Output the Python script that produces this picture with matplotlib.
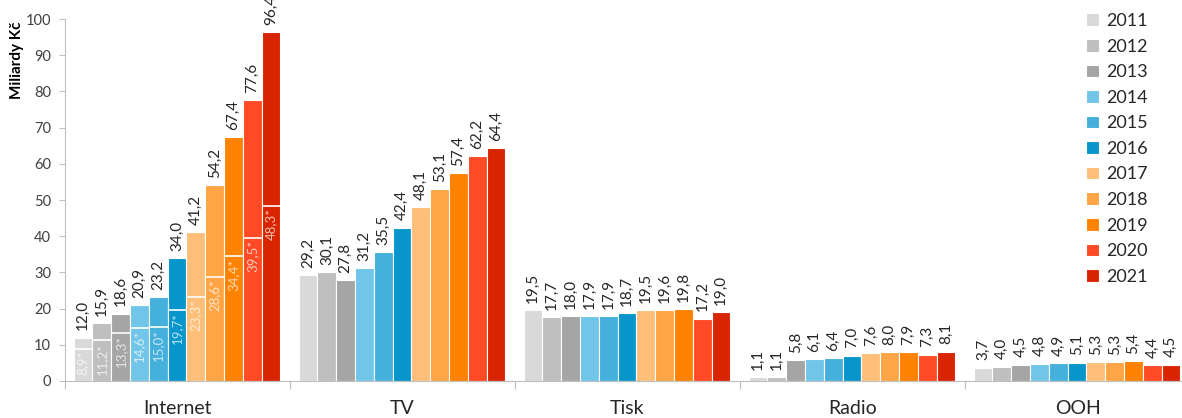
import numpy as np
import matplotlib
matplotlib.use('Agg')
import matplotlib.pyplot as plt

plt.rcParams['font.family'] = ['Lato', 'DejaVu Sans']

categories = ['Internet', 'TV', 'Tisk', 'Radio', 'OOH']
years = ['2011', '2012', '2013', '2014', '2015', '2016', '2017', '2018', '2019', '2020', '2021']
colors = ['#d9d9d9', '#bfbfbf', '#a5a5a5', '#71c5e8', '#45b0dc', '#0696cc',
          '#ffbf78', '#ffa545', '#ff8300', '#ff4a26', '#d92400']

internet = [12.0, 15.9, 18.6, 20.9, 23.2, 34.0, 41.2, 54.2, 67.4, 77.6, 96.4]
tv = [29.2, 30.1, 27.8, 31.2, 35.5, 42.4, 48.1, 53.1, 57.4, 62.2, 64.4]
tisk = [19.5, 17.7, 18.0, 17.9, 17.9, 18.7, 19.5, 19.6, 19.8, 17.2, 19.0]
radio = [1.1, 1.1, 5.8, 6.1, 6.4, 7.0, 7.6, 8.0, 7.9, 7.3, 8.1]
ooh = [3.7, 4.0, 4.5, 4.8, 4.9, 5.1, 5.3, 5.3, 5.4, 4.4, 4.5]
# internet share marked with * inside the bars
internet_star = [8.9, 11.2, 13.3, 14.6, 15.0, 19.7, 23.3, 28.6, 34.4, 39.5, 48.3]

data = np.array([internet, tv, tisk, radio, ooh])

fig = plt.figure(figsize=(11.82, 4.18), dpi=100)
ax = fig.add_axes([65/1182, 37/418, 1125/1182, 362/418])

w = 0.0836
off = 0.038
for j, year in enumerate(years):
    xs = np.arange(len(categories)) - 0.5 + off + (j + 0.5) * w
    vals = data[:, j]
    ax.bar(xs, vals, width=w, color=colors[j], edgecolor='white', linewidth=0.8,
           label=year, zorder=2)
    for x, v in zip(xs, vals):
        ax.text(x, v + 2.0, f'{v:.1f}'.replace('.', ','), rotation=90,
                ha='center', va='bottom', fontsize=11, color='#262626',
                clip_on=False)
    # starred internet part
    xi = xs[0]
    s = internet_star[j]
    ax.hlines(s, xi - w/2, xi + w/2, color='white', lw=1.2, zorder=3)
    ax.text(xi, s - 0.6, f'{s:.1f}'.replace('.', ',') + '*', rotation=90,
            ha='center', va='top', fontsize=9.5, color='white', alpha=0.7, zorder=4)

ax.set_xlim(-0.5, 4.5)
ax.set_ylim(0, 100)
ax.set_yticks(np.arange(0, 101, 10))
ax.tick_params(axis='y', length=4, color='#bfbfbf', labelsize=10.5, labelcolor='#404040', pad=6)
ax.set_xticks(np.arange(-0.5, 5, 1))
ax.set_xticklabels([])
ax.set_xticks(np.arange(5), minor=True)
ax.set_xticklabels(categories, minor=True, fontsize=14, color='#262626')
ax.tick_params(axis='x', which='major', length=6, color='#bfbfbf')
ax.tick_params(axis='x', which='minor', length=0, pad=14)

for sp in ['top', 'right']:
    ax.spines[sp].set_visible(False)
for sp in ['left', 'bottom']:
    ax.spines[sp].set_color('#bfbfbf')

fig.text(17/1182, 1 - 60/418, 'Miliardy Kč', rotation=90, ha='center', va='center',
         fontsize=11, fontweight='bold', color='black')

leg = fig.legend(loc='upper left', bbox_to_anchor=(1077/1182, 1 - 4/418), frameon=False,
                 fontsize=13, handlelength=0.7, handleheight=0.7, handletextpad=0.4,
                 labelspacing=0.53, borderpad=0)
for t in leg.get_texts():
    t.set_color('#262626')

fig.savefig('out.png', dpi=100)
